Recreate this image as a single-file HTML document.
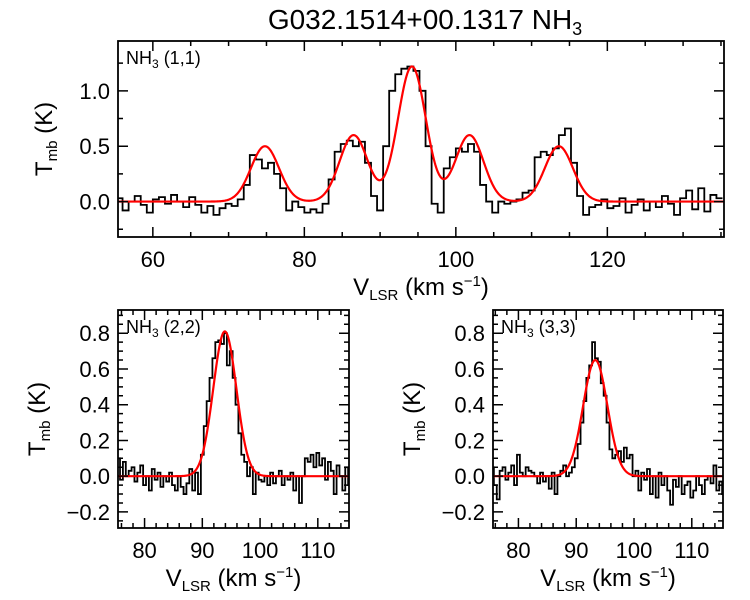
<!DOCTYPE html>
<html><head><meta charset="utf-8"><style>
body{margin:0;background:#fff}
svg{display:block;font-family:"Liberation Sans",Arial,sans-serif}
</style></head><body>
<svg id="c" width="750" height="600" xmlns="http://www.w3.org/2000/svg">
<text x="425" y="29" font-size="28" text-anchor="middle">G032.1514+00.1317 NH<tspan font-size="18" dy="6">3</tspan></text>
</svg>
<script>
// ---- data ----
const topStart = 55.6, topStep = 0.8;
const topValues = [0.03,-0.08,0.0,0.05,-0.03,-0.1,0.02,0.04,-0.02,0.06,0.0,-0.05,0.04,-0.03,-0.1,-0.04,-0.12,-0.06,-0.02,-0.04,0.02,
0.15,0.42,0.38,0.3,0.35,0.25,0.12,-0.08,0.0,-0.05,-0.1,-0.07,-0.1,-0.02,0.2,0.45,0.52,0.55,0.5,0.54,0.35,0.05,-0.08,0.5,1.0,1.15,1.2,1.22,1.18,1.0,0.5,-0.02,-0.1,0.3,0.4,0.48,0.45,0.52,0.45,0.15,0.0,-0.1,0.0,-0.02,0.0,0.02,0.08,0.1,0.4,0.45,0.42,0.48,0.6,0.66,0.35,0.05,-0.12,-0.05,
-0.03,0.02,-0.06,-0.04,0.03,-0.1,-0.03,0.02,-0.08,0.0,-0.05,0.05,-0.02,-0.12,0.03,0.1,-0.07,0.12,-0.09,0.06,0.03];
const topCenters = [74.8,86.5,94.2,101.8,113.6];
const topAmps = [0.5,0.6,1.22,0.6,0.5];
const topSigma = 1.85;

const lStart = 75.5, lStep = 0.5;
const leftValues = [0.1,-0.02,0.08,0.0,0.03,0.05,-0.03,0.02,0.06,-0.05,0.0,-0.08,0.04,-0.02,0.02,-0.06,0.0,-0.03,0.02,-0.05,-0.08,0.0,-0.06,-0.1,-0.04,
0.04,-0.08,0.02,-0.1,0.12,0.28,0.42,0.55,0.66,0.75,0.76,0.74,0.8,0.62,0.7,0.55,0.4,0.24,0.12,0.08,0.0,0.05,-0.1,0.02,-0.02,
-0.03,0.0,-0.05,0.02,-0.04,0.0,0.03,-0.05,0.0,-0.02,0.02,-0.08,0.0,-0.15,0.0,0.1,0.08,0.12,0.05,0.13,0.06,0.1,-0.02,0.08,0.03,-0.1,0.06,0.0,-0.08,0.05,-0.05];
const leftCenters = [93.9], leftAmps = [0.81], leftSigma = 2.0;

const rStart = 75.5, rStep = 0.5;
const rightValues = [0.05,-0.05,-0.13,0.03,0.05,-0.02,0.02,0.06,-0.05,0.12,0.02,0.0,0.05,0.03,0.02,0.0,-0.04,0.02,-0.03,0.0,-0.07,0.02,-0.1,0.0,0.03,
0.06,0.0,0.02,0.05,0.1,0.18,0.3,0.42,0.55,0.62,0.75,0.66,0.64,0.52,0.45,0.3,0.15,0.1,0.12,0.14,0.08,0.16,0.1,0.12,0.0,
0.03,-0.08,0.02,-0.02,0.04,-0.1,0.0,-0.12,0.02,-0.05,0.0,-0.08,-0.16,-0.02,-0.06,0.0,-0.1,-0.05,-0.03,-0.12,-0.08,0.0,-0.05,-0.1,-0.02,0.0,-0.04,0.06,-0.08,-0.03,-0.1];
const rightCenters = [93.3], rightAmps = [0.65], rightSigma = 2.1;

const topXTicks = [60,80,100,120];
const topYTicks = ["0.0","0.5","1.0"];
const botXTicks = [80,90,100,110];
const botYTicks = ["-0.2","0.0","0.2","0.4","0.6","0.8"];

const NS = "http://www.w3.org/2000/svg";
const svg = document.getElementById('c');
function mk(tag, attrs, parent){const e=document.createElementNS(NS,tag);for(const k in attrs)e.setAttribute(k,attrs[k]);(parent||svg).appendChild(e);return e;}

function panel(o){
  const g = mk('g',{});
  
  
  const sx = v => o.x0 + (v-o.xmin)/(o.xmax-o.xmin)*(o.x1-o.x0);
  const sy = v => o.y1 - (v-o.ymin)/(o.ymax-o.ymin)*(o.y1-o.y0);
  const cid = o.name+'-clip';
  const cp = mk('clipPath',{id:cid},g); mk('rect',{x:o.x0,y:o.y0,width:o.x1-o.x0,height:o.y1-o.y0},cp);
  let d='';
  o.values.forEach((v,i)=>{const xc=o.start+i*o.step;const a=sx(xc-o.step/2),b=sx(xc+o.step/2),y=sy(v);
    d += (i===0?'M':'L')+a.toFixed(2)+','+y.toFixed(2)+'L'+b.toFixed(2)+','+y.toFixed(2);});
  const h = mk('path',{d:d,fill:'none',stroke:'#000','stroke-width':1.8,'clip-path':'url(#'+cid+')'},g);
  
  
  let m='';
  for(let x=o.xmin;x<=o.xmax;x+=0.1){let s=0;o.centers.forEach((c,k)=>{s+=o.amps[k]*Math.exp(-(x-c)*(x-c)/(2*o.sigma*o.sigma));});
    m+=(m?'L':'M')+sx(x).toFixed(2)+','+sy(s).toFixed(2);}
  const mp = mk('path',{d:m,fill:'none',stroke:'#f00','stroke-width':2.2,'clip-path':'url(#'+cid+')'},g);
  
  
  mk('rect',{x:o.x0,y:o.y0,width:o.x1-o.x0,height:o.y1-o.y0,fill:'none',stroke:'#000','stroke-width':1.8},g);
  let t='';
  for(let v=Math.ceil(o.xmin/o.xminor)*o.xminor; v<=o.xmax; v+=o.xminor){
    const X=sx(v), maj=Math.abs(v/o.xmajor-Math.round(v/o.xmajor))<1e-6, L=maj?10:5;
    t+=`M${X},${o.y1}v${-L}M${X},${o.y0}v${L}`;}
  for(let v=Math.ceil(o.ymin/o.yminor-1e-9)*o.yminor; v<=o.ymax+1e-9; v+=o.yminor){
    const Y=sy(v), maj=Math.abs(v/o.ymajor-Math.round(v/o.ymajor))<1e-6, L=maj?10:5;
    t+=`M${o.x0},${Y}h${L}M${o.x1},${Y}h${-L}`;}
  mk('path',{d:t,stroke:'#000','stroke-width':1.5,fill:'none'},g);
  o.xt.forEach(v=>{const e=mk('text',{x:sx(v),y:o.y1+30,'font-size':22,'text-anchor':'middle'},g);e.textContent=v;
    
    });
  o.yt.forEach(s=>{const e=mk('text',{x:o.x0-8,y:sy(parseFloat(s))+8,'font-size':22,'text-anchor':'end'},g);e.textContent=s.replace('-','\u2212');
    
    });
  const xt = mk('text',{x:(o.x0+o.x1)/2,y:o.y1+58,'font-size':24,'text-anchor':'middle'},g);
  xt.innerHTML='V<tspan font-size="15" dy="5">LSR</tspan><tspan dy="-5"> (km s</tspan><tspan font-size="15" dy="-9">−1</tspan><tspan dy="9">)</tspan>';
  
  
  const yt = mk('text',{x:0,y:0,'font-size':24,'text-anchor':'middle',transform:`translate(${o.ytx},${(o.y0+o.y1)/2}) rotate(-90)`},g);
  yt.innerHTML='T<tspan font-size="15" dy="5">mb</tspan><tspan dy="-5"> (K)</tspan>';
  
  
  const lab = mk('text',{x:o.x0+8,y:o.y0+23,'font-size':18},g);
  lab.innerHTML='NH<tspan font-size="12" dy="4">3</tspan><tspan dy="-4"> '+o.label+'</tspan>';
  
  
}

panel({name:'panel-nh3-11',x0:118,x1:724,y0:41,y1:237,xmin:55.4,xmax:135.4,ymin:-0.32,ymax:1.45,
  xminor:5,xmajor:20,yminor:0.25,ymajor:0.5,start:topStart,step:topStep,values:topValues,
  centers:topCenters,amps:topAmps,sigma:topSigma,xt:topXTicks,yt:topYTicks,ytx:52,label:'(1,1)'});
panel({name:'panel-nh3-22',x0:118,x1:349,y0:310,y1:528,xmin:75.4,xmax:115.4,ymin:-0.29,ymax:0.93,
  xminor:2,xmajor:10,yminor:0.05,ymajor:0.2,start:lStart,step:lStep,values:leftValues,
  centers:leftCenters,amps:leftAmps,sigma:leftSigma,xt:botXTicks,yt:botYTicks,ytx:45,label:'(2,2)'});
panel({name:'panel-nh3-33',x0:493,x1:723,y0:310,y1:528,xmin:75.6,xmax:115.4,ymin:-0.29,ymax:0.93,
  xminor:2,xmajor:10,yminor:0.05,ymajor:0.2,start:rStart,step:rStep,values:rightValues,
  centers:rightCenters,amps:rightAmps,sigma:rightSigma,xt:botXTicks,yt:botYTicks,ytx:420,label:'(3,3)'});
</script>
</body></html>
